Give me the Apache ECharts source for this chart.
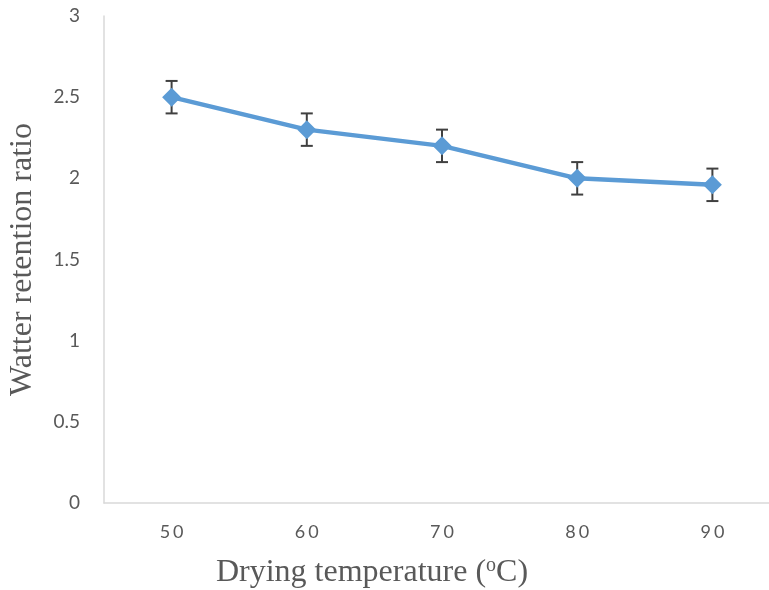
<!DOCTYPE html>
<html><head><meta charset="utf-8">
<script src="https://cdn.jsdelivr.net/npm/echarts@6/dist/echarts.min.js"></script>
<style>html,body{margin:0;padding:0;background:#fff}#c{width:769px;height:590px}</style>
</head><body><div id="c"></div>
<script>
const categories = ['50','60','70','80','90'];
const values = [2.5, 2.3, 2.2, 2.0, 1.96];
const errors = [0.1, 0.1, 0.1, 0.1, 0.1];
const yTicks = [0, 0.5, 1, 1.5, 2, 2.5, 3];

const chart = echarts.init(document.getElementById('c'));
const errData = categories.map((c, i) => [i, values[i] - errors[i], values[i] + errors[i]]);
chart.setOption({
  animation: false,
  grid: {left: 104, right: -11, top: 16, bottom: 87, outerBoundsMode: 'none', containLabel: false},
  xAxis: {
    type: 'category', data: categories, boundaryGap: true,
    axisLine: {lineStyle: {color: '#d9d9d9', width: 1.5}},
    axisTick: {show: false},
    axisLabel: {color: '#595959', fontFamily: 'Lato', fontSize: 18, margin: 20,
      formatter: v => v.split('').map(ch => '{d|' + ch + '}').join(''),
      rich: {d: {fontFamily: 'Lato', fontSize: 18, color: '#595959', padding: [0, 1.5, 0, 1.5]}}},
    name: '{a|Drying temperature (}{s|o}{a|C)}', nameLocation: 'middle', nameGap: 53,
    nameTextStyle: {padding: [0, 140, 0, 0], rich: {
      a: {fontFamily: 'Liberation Serif', fontSize: 32, color: '#595959'},
      s: {fontFamily: 'Liberation Serif', fontSize: 20, color: '#595959', verticalAlign: 'top', padding: [0,0,13,0]}
    }}
  },
  yAxis: {
    type: 'value', min: 0, max: 3, interval: 0.5,
    axisLine: {show: true, lineStyle: {color: '#d9d9d9', width: 1.5}},
    axisTick: {show: false}, splitLine: {show: false},
    axisLabel: {color: '#595959', fontFamily: 'Lato', fontSize: 19, margin: 24,
      formatter: v => yTicks.includes(v) ? String(v) : ''},
    name: 'Watter retention ratio', nameLocation: 'middle', nameGap: 65,
    nameTextStyle: {fontFamily: 'Liberation Serif', fontSize: 32, color: '#595959'}
  },
  series: [
    {
      type: 'line', data: values, symbol: 'diamond', symbolSize: 19,
      lineStyle: {color: '#5b9bd5', width: 4.5},
      itemStyle: {color: '#5b9bd5'}, z: 3
    },
    {
      type: 'custom', data: errData, z: 2,
      renderItem: function(params, api) {
        const x = api.value(0);
        const lo = api.coord([x, api.value(1)]);
        const hi = api.coord([x, api.value(2)]);
        const w = 6;
        const st = {stroke: '#404040', lineWidth: 2};
        return {type: 'group', children: [
          {type: 'line', shape: {x1: lo[0], y1: lo[1], x2: hi[0], y2: hi[1]}, style: st},
          {type: 'line', shape: {x1: lo[0]-w, y1: lo[1], x2: lo[0]+w, y2: lo[1]}, style: st},
          {type: 'line', shape: {x1: hi[0]-w, y1: hi[1], x2: hi[0]+w, y2: hi[1]}, style: st}
        ]};
      }
    }
  ]
});
</script></body></html>
